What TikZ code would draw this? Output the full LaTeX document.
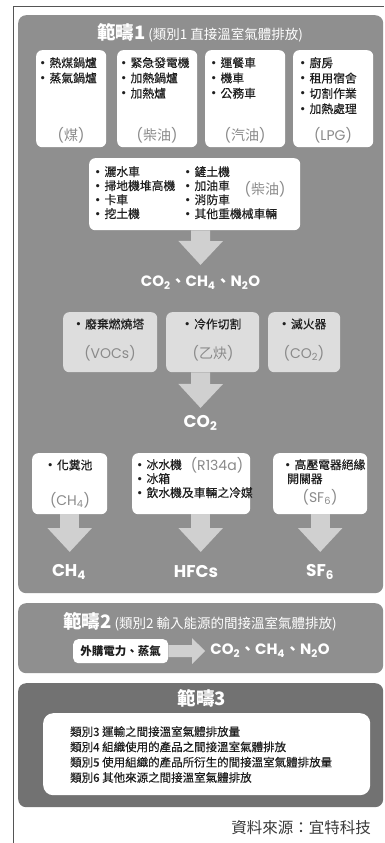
\documentclass[tikz,border=0pt]{standalone}
\usepackage{fontspec}
\setmainfont{Noto Sans CJK TC}[FakeBold=0.3]
\newfontfamily\cjkf{Noto Sans CJK TC}
\newfontfamily\latf{Poppins}
\usetikzlibrary{arrows.meta,calc}
\newcommand\mysub[1]{\textsubscript{#1}}
\newcommand\lp[1]{{\latf(}#1{\latf)}}
\newcommand\bul{{\latf\fontsize{13}{13}\selectfont •}\hspace{4pt}}
\newcommand\ttlbig[1]{{\cjkf\fontsize{18.5}{18.5}\selectfont\bfseries #1}}
\newcommand\ttlsmall[1]{{\cjkf\fontsize{13.5}{13.5}\selectfont #1}}
\newcommand\mkbox[6]{\node[#6,anchor=north west,minimum width={(#4)-(#2)},minimum height={(#5)-(#3)}] (#1) at (#2,#3) {};}
\definecolor{panelA}{HTML}{8F8F8F}
\definecolor{panelC}{HTML}{727272}
\definecolor{arrowc}{HTML}{D0D0D0}
\definecolor{softbox}{HTML}{DDDDDD}
\definecolor{labelc}{HTML}{8A8A8A}
\definecolor{framec}{HTML}{555555}
\definecolor{inkc}{HTML}{1E1E1E}
\definecolor{srcc}{HTML}{3A3A3A}
\begin{document}
\begin{tikzpicture}[x=1pt,y=-1pt,
 panel/.style={fill=panelA,rounded corners=8pt,inner sep=0pt},
 panelc/.style={fill=panelC,rounded corners=8pt,inner sep=0pt},
 wbox/.style={fill=white,rounded corners=6pt,inner sep=0pt},
 sbox/.style={fill=softbox,rounded corners=6pt,inner sep=0pt},
 item/.style={font=\fontsize{11.8}{15.3}\selectfont,text=inkc,align=left,inner sep=0pt,anchor=north west},
 itemc/.style={font=\fontsize{11.8}{14}\selectfont,text=inkc,inner sep=0pt},
 lab/.style={font=\cjkf\fontsize{14}{14}\selectfont,text=labelc,inner sep=0pt},
 gas/.style={font=\latf\bfseries\fontsize{17}{17}\selectfont,text=white,inner sep=0pt},
 gasline/.style={font=\latf\bfseries\fontsize{15}{15}\selectfont,text=white,inner sep=0pt},
 ttl/.style={text=white,inner sep=0pt},
 fatd/.style={draw=arrowc,line width=19pt,-{Triangle[width=43pt,length=24pt]}},
]
\useasboundingbox (0,0) rectangle (384,843);
\fill[white] (0,0) rectangle (384,843);
\draw[framec,line width=1pt] (13,843) -- (13,7) -- (384,7);

% ---------- Scope 1 ----------
\mkbox{p1}{18}{15}{383}{593}{panel}
\node[ttl] (t1) at (200,33) {\ttlbig{範疇1}\hspace{3pt}\ttlsmall{(類別1 直接溫室氣體排放)}};

\mkbox{b1}{36}{50}{106}{147}{wbox}
\mkbox{b2}{117}{50}{197}{147}{wbox}
\mkbox{b3}{205}{50}{285}{147}{wbox}
\mkbox{b4}{293}{50}{373}{147}{wbox}
\node[item] (i1) at (40,57) {\bul 熱煤鍋爐\\\bul 蒸氣鍋爐};
\node[item] (i2) at (121,57) {\bul 緊急發電機\\\bul 加熱鍋爐\\\bul 加熱爐};
\node[item] (i3) at (211,57) {\bul 運餐車\\\bul 機車\\\bul 公務車};
\node[item] (i4) at (300,57) {\bul 廚房\\\bul 租用宿舍\\\bul 切割作業\\\bul 加熱處理};
\node[lab] (l1) at (71,135) {\lp{煤}};
\node[lab] (l2) at (157,135) {\lp{柴油}};
\node[lab] (l3) at (245,135) {\lp{汽油}};
\node[lab] (l4) at (333,135) {\latf (LPG)};

\mkbox{b5}{89}{158}{300}{230}{wbox}
\node[item,font=\fontsize{11.8}{14}\selectfont] (i5) at (95,166) {\bul 灑水車\\\bul 掃地機堆高機\\\bul 卡車\\\bul 挖土機};
\node[item,font=\fontsize{11.8}{14}\selectfont] (i6) at (185,166) {\bul 鏟土機\\\bul 加油車\\\bul 消防車\\\bul 其他重機械車輛};
\node[lab] (l5) at (265,189) {\lp{柴油}};

\node[gasline] (g1) at (200.5,283) {CO\mysub{2}{\cjkf 、}CH\mysub{4}{\cjkf 、}N\mysub{2}O};
\draw[fatd] (b5.south -| p1) -- ($(g1.center)+(0,-18)$);

\mkbox{b6}{63}{312}{157}{372}{sbox}
\mkbox{b7}{166}{312}{259}{372}{sbox}
\mkbox{b8}{268}{312}{340}{372}{sbox}
\node[itemc] (i7) at (110,324) {\bul 廢棄燃燒塔};
\node[itemc] (i8) at (213,324) {\bul 冷作切割};
\node[itemc] (i9) at (304,324) {\bul 滅火器};
\node[lab] (l6) at (110,353) {\latf (VOCs)};
\node[lab] (l7) at (213,353) {\lp{乙炔}};
\node[lab] (l8) at (304,353) {\latf (CO\mysub{2})};

\node[gas] (g2) at (200.5,423) {CO\mysub{2}};
\draw[fatd] (b7.south -| p1) -- ($(g2.center)+(0,-15)$);

\mkbox{b9}{32}{453}{107}{514}{wbox}
\mkbox{b10}{132}{453}{250}{514}{wbox}
\mkbox{b11}{273}{453}{367}{514}{wbox}
\node[itemc] (i10) at (70,465) {\bul 化糞池};
\node[lab] (l9) at (70,500) {\latf (CH\mysub{4})};
\node[item,font=\fontsize{11.8}{14}\selectfont] (i11) at (137,459) {\bul 冰水機\\\bul 冰箱\\\bul 飲水機及車輛之冷媒};
\node[lab] (l10) at (217,465) {\latf (R134a)};
\node[item,font=\fontsize{11.8}{14}\selectfont] (i12) at (285,459) {\bul 高壓電器絕緣\\\hspace{2pt}開關器};
\node[lab] (l11) at (320,497) {\latf (SF\mysub{6})};

\node[gas] (h1) at (69,572) {CH\mysub{4}};
\node[gas] (h2) at (196,572) {HFCs};
\node[gas] (h3) at (320,572) {SF\mysub{6}};
\draw[fatd] (b9.south) -- ($(b9.south |- h1.center)+(0,-20)$);
\draw[fatd] (b10.south -| p1) -- ($(p1 |- h2.center)+(0,-20)$);
\draw[fatd] (b11.south) -- ($(b11.south |- h3.center)+(0,-20)$);

% ---------- Scope 2 ----------
\mkbox{p2}{18}{603}{383}{673}{panel}
\node[ttl] (t2) at (200,622) {\ttlbig{範疇2}\hspace{3pt}\ttlsmall{(類別2 輸入能源的間接溫室氣體排放)}};
\mkbox{b12}{73}{639}{168}{663}{wbox,rounded corners=5pt}
\node[font=\cjkf\bfseries\fontsize{11.5}{11.5}\selectfont,text=inkc,inner sep=0pt] (i13) at (b12.center) {外購電力、蒸氣};
\node[gasline] (g3) at (270,651) {CO\mysub{2}{\cjkf 、}CH\mysub{4}{\cjkf 、}N\mysub{2}O};
\draw[draw=arrowc,line width=12pt,-{Triangle[width=25pt,length=13pt]}] (b12.east) -- ($(g3.west)+(-5,0)$);

% ---------- Scope 3 ----------
\mkbox{p3}{18}{683}{383}{807}{panelc}
\node[ttl] (t3) at (202,698) {\ttlbig{範疇3}};
\mkbox{b13}{43}{713}{370}{795}{wbox,rounded corners=10pt}
\node[item,font=\fontsize{11.5}{15.3}\selectfont] (i14) at (70,726) {類別3 運輸之間接溫室氣體排放量\\類別4 組織使用的產品之間接溫室氣體排放\\類別5 使用組織的產品所衍生的間接溫室氣體排放量\\類別6 其他來源之間接溫室氣體排放};

\node[anchor=east,font=\cjkf\fontsize{15.5}{15.5}\selectfont,text=srcc,inner sep=0pt] (src) at (371,828) {資料來源：宜特科技};
\end{tikzpicture}
\end{document}
